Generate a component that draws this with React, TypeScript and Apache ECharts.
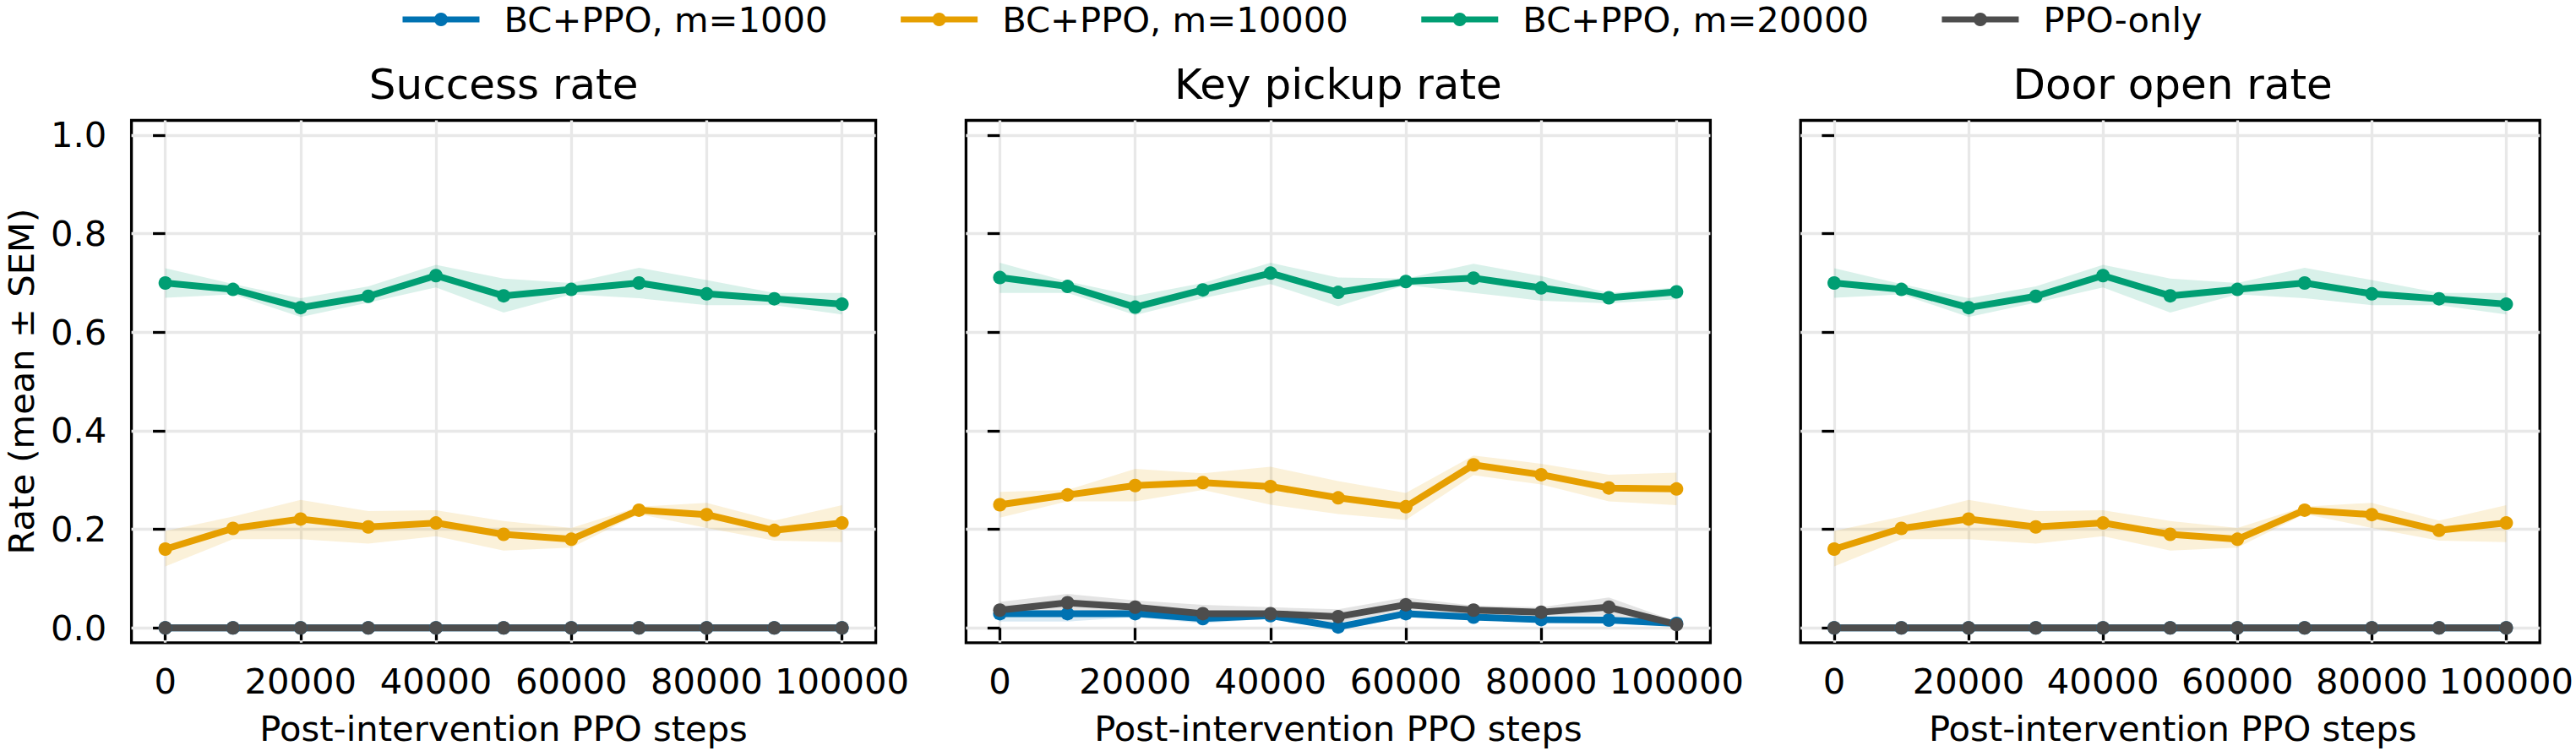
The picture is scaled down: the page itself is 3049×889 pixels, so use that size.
import React, { useEffect, useRef } from "react";
import * as echarts from "echarts";

// ---------- data ----------
const steps = [0, 10000, 20000, 30000, 40000, 50000, 60000, 70000, 80000, 90000, 100000];
const xTicks = [0, 20000, 40000, 60000, 80000, 100000];
const yTicks = [0, 0.2, 0.4, 0.6, 0.8, 1.0];

const seriesNames = ["BC+PPO, m=1000", "BC+PPO, m=10000", "BC+PPO, m=20000", "PPO-only"];
const seriesColors = ["#0072B2", "#E69F00", "#009E73", "#4D4D4D"];
const panelTitles = ["Success rate", "Key pickup rate", "Door open rate"];

// Success rate
const successM1000Mean = [0, 0, 0, 0, 0, 0, 0, 0, 0, 0, 0];
const successM1000Lo = [0, 0, 0, 0, 0, 0, 0, 0, 0, 0, 0];
const successM1000Hi = [0, 0, 0, 0, 0, 0, 0, 0, 0, 0, 0];
const successM10000Mean = [0.160, 0.202, 0.221, 0.205, 0.213, 0.190, 0.180, 0.239, 0.230, 0.198, 0.213];
const successM10000Lo = [0.125, 0.180, 0.180, 0.171, 0.186, 0.157, 0.163, 0.231, 0.203, 0.177, 0.174];
const successM10000Hi = [0.197, 0.226, 0.260, 0.237, 0.239, 0.217, 0.203, 0.246, 0.254, 0.218, 0.249];
const successM20000Mean = [0.700, 0.687, 0.650, 0.673, 0.715, 0.674, 0.687, 0.700, 0.678, 0.668, 0.657];
const successM20000Lo = [0.670, 0.677, 0.631, 0.660, 0.691, 0.640, 0.677, 0.669, 0.655, 0.655, 0.636];
const successM20000Hi = [0.730, 0.698, 0.669, 0.693, 0.737, 0.709, 0.700, 0.731, 0.706, 0.680, 0.680];
const successPpoMean = [0, 0, 0, 0, 0, 0, 0, 0, 0, 0, 0];
const successPpoLo = [0, 0, 0, 0, 0, 0, 0, 0, 0, 0, 0];
const successPpoHi = [0, 0, 0, 0, 0, 0, 0, 0, 0, 0, 0];

// Key pickup rate
const keyM1000Mean = [0.029, 0.029, 0.029, 0.019, 0.025, 0.002, 0.029, 0.022, 0.017, 0.016, 0.009];
const keyM1000Lo = [0.013, 0.013, 0.022, 0.009, 0.019, -0.004, 0.022, 0.016, 0.011, 0.009, 0.006];
const keyM1000Hi = [0.036, 0.036, 0.036, 0.025, 0.029, 0.007, 0.036, 0.027, 0.023, 0.022, 0.011];
const keyM10000Mean = [0.250, 0.270, 0.289, 0.295, 0.287, 0.264, 0.246, 0.331, 0.311, 0.284, 0.282];
const keyM10000Lo = [0.224, 0.257, 0.257, 0.280, 0.250, 0.231, 0.219, 0.310, 0.291, 0.257, 0.249];
const keyM10000Hi = [0.276, 0.280, 0.323, 0.314, 0.327, 0.298, 0.274, 0.350, 0.333, 0.311, 0.315];
const keyM20000Mean = [0.711, 0.693, 0.651, 0.686, 0.720, 0.681, 0.703, 0.710, 0.690, 0.670, 0.682];
const keyM20000Lo = [0.680, 0.680, 0.635, 0.669, 0.698, 0.653, 0.696, 0.680, 0.664, 0.659, 0.667];
const keyM20000Hi = [0.741, 0.703, 0.674, 0.700, 0.741, 0.711, 0.709, 0.739, 0.714, 0.680, 0.691];
const keyPpoMean = [0.036, 0.051, 0.042, 0.029, 0.029, 0.023, 0.047, 0.036, 0.032, 0.042, 0.007];
const keyPpoLo = [0.022, 0.036, 0.030, 0.016, 0.019, 0.010, 0.036, 0.025, 0.025, 0.025, 0.005];
const keyPpoHi = [0.053, 0.069, 0.056, 0.047, 0.042, 0.038, 0.062, 0.045, 0.042, 0.062, 0.013];

// Door open rate
const doorM1000Mean = [0, 0, 0, 0, 0, 0, 0, 0, 0, 0, 0];
const doorM1000Lo = [0, 0, 0, 0, 0, 0, 0, 0, 0, 0, 0];
const doorM1000Hi = [0, 0, 0, 0, 0, 0, 0, 0, 0, 0, 0];
const doorM10000Mean = [0.160, 0.202, 0.221, 0.205, 0.213, 0.190, 0.180, 0.239, 0.230, 0.198, 0.213];
const doorM10000Lo = [0.125, 0.180, 0.180, 0.171, 0.186, 0.157, 0.163, 0.231, 0.203, 0.177, 0.174];
const doorM10000Hi = [0.197, 0.226, 0.260, 0.237, 0.239, 0.217, 0.203, 0.246, 0.254, 0.218, 0.249];
const doorM20000Mean = [0.700, 0.687, 0.650, 0.673, 0.715, 0.674, 0.687, 0.700, 0.678, 0.668, 0.657];
const doorM20000Lo = [0.670, 0.677, 0.631, 0.660, 0.691, 0.640, 0.677, 0.669, 0.655, 0.655, 0.636];
const doorM20000Hi = [0.730, 0.698, 0.669, 0.693, 0.737, 0.709, 0.700, 0.731, 0.706, 0.680, 0.680];
const doorPpoMean = [0, 0, 0, 0, 0, 0, 0, 0, 0, 0, 0];
const doorPpoLo = [0, 0, 0, 0, 0, 0, 0, 0, 0, 0, 0];
const doorPpoHi = [0, 0, 0, 0, 0, 0, 0, 0, 0, 0, 0];

const panelData = [
  [
    [successM1000Mean, successM1000Lo, successM1000Hi],
    [successM10000Mean, successM10000Lo, successM10000Hi],
    [successM20000Mean, successM20000Lo, successM20000Hi],
    [successPpoMean, successPpoLo, successPpoHi],
  ],
  [
    [keyM1000Mean, keyM1000Lo, keyM1000Hi],
    [keyM10000Mean, keyM10000Lo, keyM10000Hi],
    [keyM20000Mean, keyM20000Lo, keyM20000Hi],
    [keyPpoMean, keyPpoLo, keyPpoHi],
  ],
  [
    [doorM1000Mean, doorM1000Lo, doorM1000Hi],
    [doorM10000Mean, doorM10000Lo, doorM10000Hi],
    [doorM20000Mean, doorM20000Lo, doorM20000Hi],
    [doorPpoMean, doorPpoLo, doorPpoHi],
  ],
];

// ---------- layout ----------
const W = 3049;
const H = 889;
const FONT = '"DejaVu Sans", sans-serif';
const gridLefts = [155.6, 1143.4, 2131.2];
const gridWidth = 881;
const gridTop = 142.5;
const gridHeight = 618.3;
const GRID_COLOR = "#e8e8e8";

function buildOption() {
  const grids = gridLefts.map((left) => ({
    left,
    top: gridTop,
    width: gridWidth,
    height: gridHeight,
    show: true,
    borderColor: "#000",
    borderWidth: 3.3,
    backgroundColor: "transparent",
    containLabel: false,
  }));

  const xAxes = gridLefts.map((_, i) => ({
    type: "value",
    gridIndex: i,
    min: -5000,
    max: 105000,
    axisLine: { show: false },
    axisTick: {
      show: true,
      inside: false,
      length: 14.6,
      lineStyle: { color: "#000", width: 3.3 },
      customValues: xTicks,
    },
    axisLabel: {
      show: true,
      margin: 25,
      fontSize: 41.7,
      fontFamily: FONT,
      color: "#000",
      customValues: xTicks,
      formatter: (v: number) => String(v),
    },
    splitLine: { show: true, lineStyle: { color: GRID_COLOR, width: 3.3 } },
  }));

  const yAxes = gridLefts.map((_, i) => ({
    type: "value",
    gridIndex: i,
    min: -0.03,
    max: 1.03,
    axisLine: { show: false },
    axisTick: {
      show: true,
      inside: false,
      length: 14.6,
      lineStyle: { color: "#000", width: 3.3 },
      customValues: yTicks,
    },
    axisLabel: {
      show: i === 0,
      margin: 29.2,
      fontSize: 41.7,
      fontFamily: FONT,
      color: "#000",
      customValues: yTicks,
      formatter: (v: number) => v.toFixed(1),
    },
    splitLine: { show: true, lineStyle: { color: GRID_COLOR, width: 3.3 } },
  }));

  const series: any[] = [];
  // SEM bands first (below the lines)
  panelData.forEach((methods, p) => {
    methods.forEach(([_mean, lo, hi], k) => {
      const hasBand = hi.some((v, i) => v - lo[i] !== 0);
      if (!hasBand) return;
      series.push({
        type: "custom",
        xAxisIndex: p,
        yAxisIndex: p,
        silent: true,
        clip: true,
        z: 1,
        encode: { x: 0, y: [1, 2] },
        data: steps.map((x, i) => [x, lo[i], hi[i]]),
        renderItem: (params: any, api: any) => {
          if (params.dataIndex !== 0) return null;
          const pts: number[][] = [];
          for (let i = 0; i < steps.length; i++) pts.push(api.coord([steps[i], hi[i]]));
          for (let i = steps.length - 1; i >= 0; i--) pts.push(api.coord([steps[i], lo[i]]));
          return {
            type: "polygon",
            shape: { points: pts },
            style: { fill: seriesColors[k], opacity: 0.15 },
          };
        },
      });
    });
  });
  // mean lines
  panelData.forEach((methods, p) => {
    methods.forEach(([mean], k) => {
      series.push({
        type: "line",
        name: seriesNames[k],
        xAxisIndex: p,
        yAxisIndex: p,
        symbol: "circle",
        symbolSize: 16,
        z: 3,
        color: seriesColors[k],
        itemStyle: { color: seriesColors[k] },
        lineStyle: { color: seriesColors[k], width: 8 },
        data: steps.map((x, i) => [x, mean[i]]),
      });
    });
  });

  const graphics: any[] = [];
  gridLefts.forEach((left, i) => {
    const cx = left + gridWidth / 2;
    graphics.push({
      type: "text",
      x: cx,
      y: 100,
      style: {
        text: panelTitles[i],
        fontSize: 50,
        fontFamily: FONT,
        fill: "#000",
        align: "center",
        verticalAlign: "middle",
      },
    });
    graphics.push({
      type: "text",
      x: cx,
      y: 862,
      style: {
        text: "Post-intervention PPO steps",
        fontSize: 41.7,
        fontFamily: FONT,
        fill: "#000",
        align: "center",
        verticalAlign: "middle",
      },
    });
  });
  graphics.push({
    type: "text",
    x: 25,
    y: gridTop + gridHeight / 2,
    rotation: Math.PI / 2,
    style: {
      text: "Rate (mean ± SEM)",
      fontSize: 41.7,
      fontFamily: FONT,
      fill: "#000",
      align: "center",
      verticalAlign: "middle",
    },
  });

  return {
    animation: false,
    backgroundColor: "#fff",
    textStyle: { fontFamily: FONT },
    legend: {
      data: seriesNames,
      left: 473,
      top: 2,
      padding: 0,
      itemWidth: 91,
      itemHeight: 20,
      itemGap: 83,
      selectedMode: false,
      lineStyle: { width: 7 },
      textStyle: {
        fontSize: 41.7,
        fontFamily: FONT,
        color: "#000",
        padding: [0, 0, 0, 24],
      },
    },
    grid: grids,
    xAxis: xAxes,
    yAxis: yAxes,
    series,
    graphic: graphics,
  };
}

export default function App() {
  const ref = useRef<HTMLDivElement>(null);
  useEffect(() => {
    document.body.style.margin = "0";
    if (!ref.current) return;
    const chart = echarts.init(ref.current, null, { renderer: "svg" });
    chart.setOption(buildOption() as any);
    return () => {
      chart.dispose();
    };
  }, []);
  return <div ref={ref} style={{ width: W, height: H }} />;
}
